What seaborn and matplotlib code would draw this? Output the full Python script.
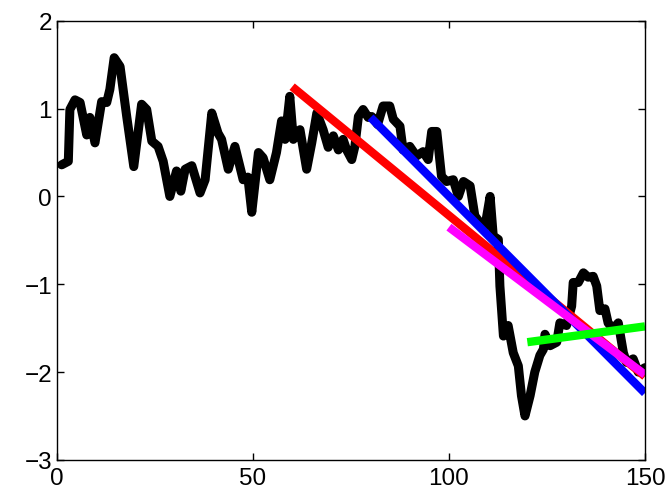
import numpy as np
import pandas as pd
import matplotlib
matplotlib.use("Agg")
import matplotlib.pyplot as plt
import seaborn as sns

# 검은 선 (원 데이터) - 그림에서 읽은 값
x_raw = [1.2, 2.9, 3.3, 4.6, 5.9, 7.6, 8.4, 9.7, 11.4, 12.7, 13.5, 14.6, 16.1, 17.8, 19.6,
         21.6, 22.9, 24.2, 25.8, 27.1, 28.8, 30.5, 31.6, 32.7, 34.4, 36.5, 37.8, 39.5, 41.1,
         42.0, 43.7, 45.4, 47.5, 48.7, 49.7, 51.4, 52.6, 54.3, 56.0, 57.3, 58.2, 59.4, 60.3,
         62.0, 63.7, 65.0, 66.3, 67.9, 69.2, 70.5, 71.8, 73.0, 73.9, 75.2, 76.0, 76.9, 78.1,
         79.4, 80.3, 81.8, 83.2, 84.9, 85.8, 87.5, 88.3, 90.0, 91.7, 93.4, 94.7, 95.6, 96.9,
         98.1, 99.4, 101.1, 102.4, 103.7, 105.4, 106.6, 107.9, 109.2, 110.5, 111.3, 112.6,
         113.0, 113.9, 115.1, 116.4, 117.7, 118.5, 119.4, 120.7, 121.9, 123.2, 124.1, 124.5,
         125.8, 127.5, 128.3, 130.0, 131.3, 131.7, 133.0, 134.3, 135.5, 136.8, 137.7, 138.5,
         139.8, 140.6, 141.9, 143.2, 144.5, 145.3, 147.0, 148.3, 150.0]
y_raw = [0.36, 0.40, 0.99, 1.10, 1.07, 0.70, 0.90, 0.61, 1.08, 1.07, 1.22, 1.58, 1.48, 0.91, 0.34,
         1.05, 0.99, 0.63, 0.57, 0.40, 0.00, 0.29, 0.06, 0.31, 0.35, 0.04, 0.19, 0.95, 0.72,
         0.65, 0.31, 0.57, 0.19, 0.22, -0.18, 0.50, 0.44, 0.19, 0.50, 0.86, 0.65, 1.14, 0.65,
         0.76, 0.31, 0.61, 0.95, 0.76, 0.56, 0.69, 0.53, 0.65, 0.53, 0.42, 0.57, 0.91, 0.99,
         0.90, 0.91, 0.82, 1.03, 1.03, 0.88, 0.80, 0.53, 0.57, 0.46, 0.51, 0.42, 0.74, 0.74,
         0.23, 0.17, 0.19, 0.00, 0.17, 0.12, -0.22, -0.30, -0.34, 0.00, -0.45, -0.49,
         -1.02, -1.59, -1.47, -1.78, -1.93, -2.27, -2.50, -2.27, -2.00, -1.81, -1.74, -1.57,
         -1.70, -1.66, -1.44, -1.47, -1.25, -0.98, -0.98, -0.87, -0.92, -0.91, -1.02, -1.30,
         -1.28, -1.44, -1.51, -1.44, -1.78, -1.89, -1.85, -2.00, -1.95]

# 추세선 (시작/끝점)
fit_x = {"red": [60, 150], "blue": [80, 150], "magenta": [100, 150], "lime": [120, 150]}
fit_y = {"red": [1.25, -2.05], "blue": [0.90, -2.24], "magenta": [-0.35, -2.03], "lime": [-1.66, -1.48]}

sns.set_style("ticks", {"axes.edgecolor": "black", "xtick.color": "black",
                        "ytick.color": "black", "text.color": "black"})
plt.rcParams['font.family'] = ['Liberation Sans', 'DejaVu Sans']

fig = plt.figure(figsize=(6.7, 5.02), dpi=100)
ax = fig.add_axes([0.085, 0.082, 0.8776, 0.8745])

sns.lineplot(x=x_raw, y=y_raw, color="black", linewidth=6.5, ax=ax, sort=False)
for c in ["red", "blue", "magenta", "lime"]:
    sns.lineplot(x=fit_x[c], y=fit_y[c], color=c, linewidth=6, ax=ax, sort=False,
                 solid_capstyle="butt")

ax.set_xlim(0, 150)
ax.set_ylim(-3, 2)
ax.set_xticks([0, 50, 100, 150])
ax.set_yticks([-3, -2, -1, 0, 1, 2])
ax.set_yticklabels(["\u22123", "\u22122", "\u22121", "0", "1", "2"])
ax.tick_params(direction="in", top=True, right=True, labelsize=17.5, length=5, width=1,
               colors="black")
ax.tick_params(axis="x", pad=5)
for s in ax.spines.values():
    s.set_linewidth(1)
    s.set_color("black")

fig.savefig("out.png", dpi=100)
